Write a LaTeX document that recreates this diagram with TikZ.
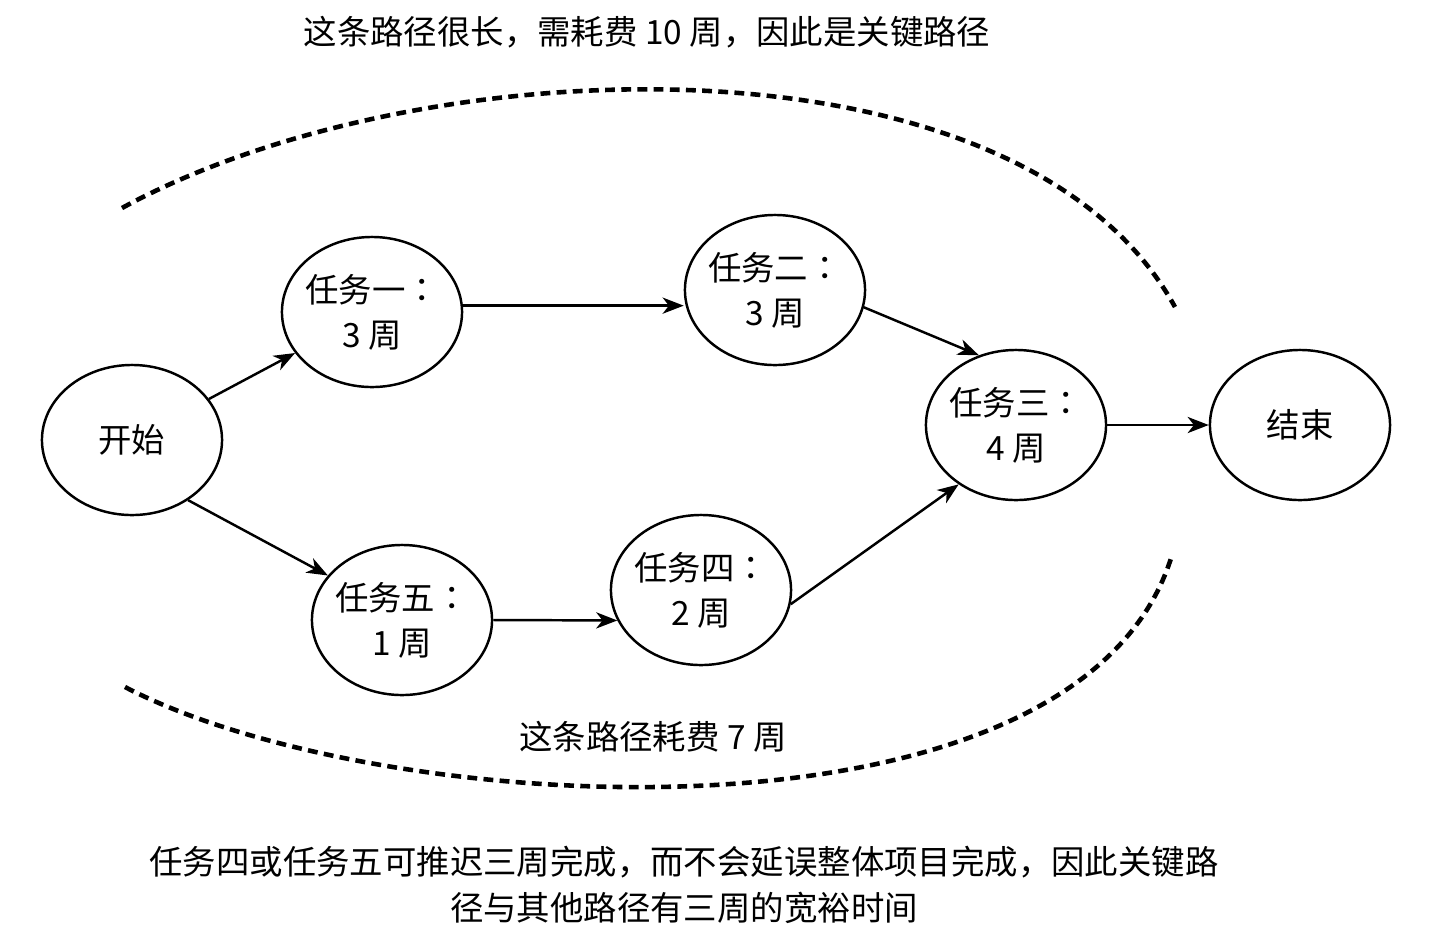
\documentclass[tikz,border=0pt]{standalone}
\usepackage{fontspec}
\setmainfont{Noto Sans CJK SC}
\newfontfamily\tcfont{Noto Sans CJK TC}
\newcommand{\tcolon}{{\tcfont ：}}
\usetikzlibrary{shapes.geometric, arrows.meta, positioning}

\begin{document}
\begin{tikzpicture}[
  x=0.01cm, y=-0.01cm,
  task/.style={ellipse, draw, line width=0.7pt, minimum width=1.8cm, minimum height=1.5cm, inner xsep=-4pt, inner ysep=0pt, align=center, font=\fontsize{9.5}{12.8}\selectfont},
  arrow/.style={-{Stealth[length=6pt, width=4.6pt, inset=1.8pt]}, line width=0.7pt},
  critpath/.style={line width=1.3pt, dash pattern=on 2.8pt off 1.8pt},
  note/.style={align=center, font=\fontsize{9.5}{13}\selectfont}
]
\useasboundingbox (0,0) rectangle (1453,932);

\node[task] (start) at (132,440) {开始};
\node[task] (t1) at (372,312) {任务一\tcolon\\3 周};
\node[task] (t2) at (775,290) {任务二\tcolon\\3 周};
\node[task] (t3) at (1016,425) {任务三\tcolon\\4 周};
\node[task] (finish) at (1300,425) {结束};
\node[task] (t5) at (402,620) {任务五\tcolon\\1 周};
\node[task] (t4) at (701,590) {任务四\tcolon\\2 周};

\node[note] (crit) at (647,32) {这条路径很长，需耗费 10 周，因此是关键路径};
\node[note] (side) at (653,737) {这条路径耗费 7 周};
\node[note] (slack) at (684,885) {任务四或任务五可推迟三周完成，而不会延误整体项目完成，因此关键路\\径与其他路径有三周的宽裕时间};

\draw[arrow] (start) -- (t1);
\draw[arrow] (t1.4) -- (t1.4 -| t2.west);
\draw[arrow] (t2.-11) -- (t3.118);
\draw[arrow] (t3) -- (finish);
\draw[arrow] (start.-47) -- (t5.149);
\draw[arrow] (t5.east) -- (t4.200);
\draw[arrow] (t4.-9.5) -- (t3.226);

\draw[critpath] (122,208) .. controls (420,45) and (1020,25) .. (1175,307);
\draw[critpath] (125,687) .. controls (380,820) and (1080,860) .. (1172,555);
\end{tikzpicture}
\end{document}
